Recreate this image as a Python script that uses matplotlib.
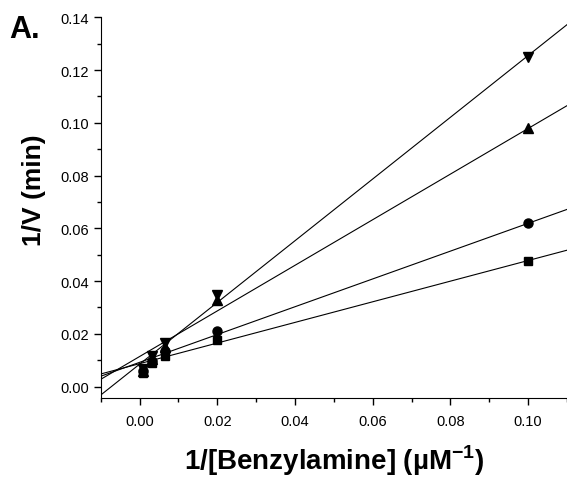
import matplotlib
matplotlib.use("Agg")
import matplotlib.pyplot as mp
from matplotlib.ticker import MultipleLocator, FormatStrFormatter

mp.rcParams["font.family"] = ["Liberation Sans", "DejaVu Sans"]
mp.rcParams["mathtext.fontset"] = "custom"
mp.rcParams["mathtext.rm"] = "Liberation Sans"
mp.rcParams["mathtext.bf"] = "Liberation Sans:bold"

# 1/[Benzylamine] (uM^-1)
inv_conc = [0.001, 0.00333, 0.00667, 0.02, 0.1]

# 1/V (min) for each series
v_square = [0.0052, 0.0090, 0.0117, 0.0177, 0.0478]
v_circle = [0.0058, 0.0099, 0.0136, 0.0212, 0.0619]
v_up = [0.0060, 0.0105, 0.0149, 0.0330, 0.0979]
v_down = [0.0065, 0.0115, 0.0166, 0.0348, 0.1248]

# fitted lines: slope, intercept
fit_slopes = [0.391, 0.527, 0.8645, 1.17]
fit_intercepts = [0.0087, 0.0092, 0.0114, 0.0085]

series = [v_square, v_circle, v_up, v_down]
markers = [("s", 5.5), ("o", 6.5), ("^", 7), ("v", 7)]


def main():
    fig = mp.figure(figsize=(5.67, 4.81), dpi=100)
    ax = fig.add_axes([0.1776, 0.170, 0.8224, 0.792])
    plot_data(ax)
    set_properties(ax)
    fig.text(0.016, 0.921, "A.", fontsize=22, fontweight="bold", va="baseline")
    fig.savefig("out.png", dpi=100)


def plot_data(ax):
    for slope, b in zip(fit_slopes, fit_intercepts):
        ax.axline((0, b), slope=slope, color="black", lw=0.8, zorder=2)
    for vals, (m, ms) in zip(series, markers):
        ax.plot(inv_conc, vals, linestyle="none", marker=m, ms=ms,
                color="black", zorder=3)


def set_properties(ax):
    ax.set_xlim(-0.01, 0.11)
    ax.set_ylim(-0.0044, 0.14)
    ax.spines["top"].set_visible(False)
    ax.spines["right"].set_visible(False)
    ax.xaxis.set_major_locator(MultipleLocator(0.02))
    ax.xaxis.set_minor_locator(MultipleLocator(0.01))
    ax.yaxis.set_major_locator(MultipleLocator(0.02))
    ax.yaxis.set_minor_locator(MultipleLocator(0.01))
    ax.xaxis.set_major_formatter(FormatStrFormatter("%.2f"))
    ax.yaxis.set_major_formatter(FormatStrFormatter("%.2f"))
    ax.tick_params(which="major", direction="out", length=5, width=1,
                   labelsize=10.5)
    ax.tick_params(axis="x", which="major", pad=6)
    ax.tick_params(which="minor", direction="out", length=3, width=1)
    ax.set_xlabel(r"1/[Benzylamine] (µM$^{\mathbf{-1}}$)", fontsize=20,
                  fontweight="bold", labelpad=11)
    ax.set_ylabel("1/V (min)", fontsize=19, fontweight="bold")
    ax.yaxis.set_label_coords(-0.118, 0.55)


if __name__ == "__main__":
    main()
